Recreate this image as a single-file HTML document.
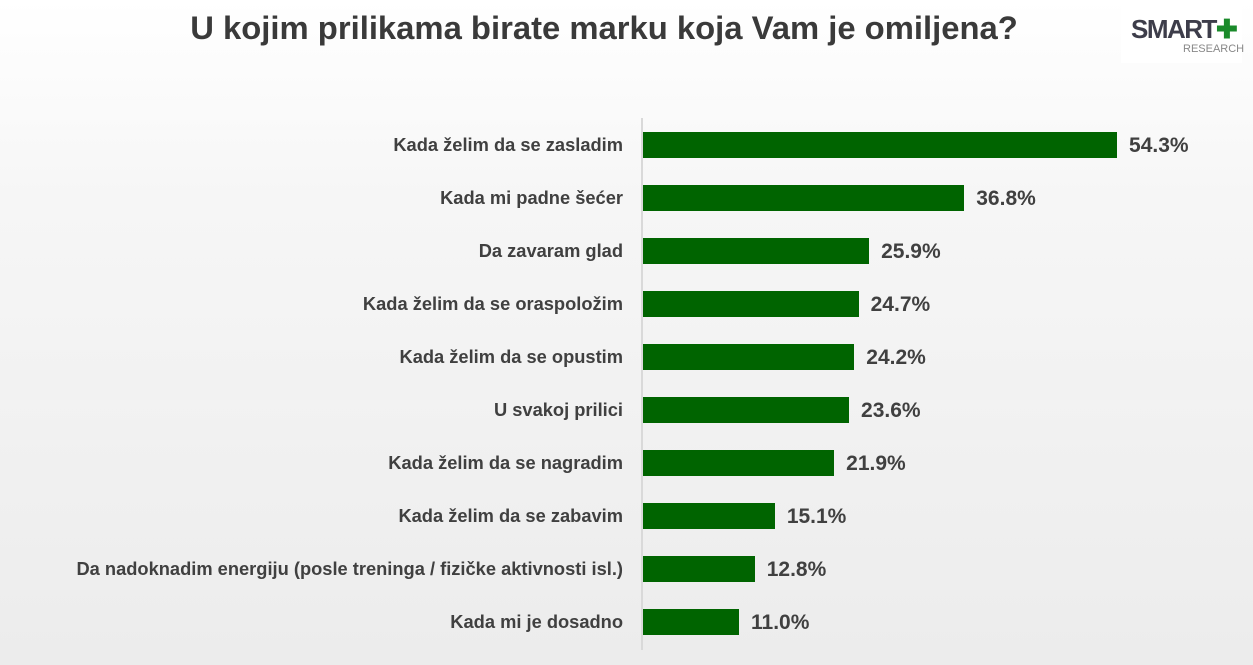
<!DOCTYPE html>
<html><head><meta charset="utf-8"><style>
html,body{margin:0;padding:0}
body{width:1253px;height:665px;position:relative;overflow:hidden;background:linear-gradient(#ffffff 0%,#f6f6f6 30%,#ececec 100%);font-family:"Liberation Sans",sans-serif;color:#404040}
.t{position:absolute;left:0;width:1208px;top:9px;text-align:center;font-size:32.8px;font-weight:bold;color:#3a3a3a}
.logo{position:absolute;left:1121px;top:5px;width:121px;height:58px;background:#fff}
.axis{position:absolute;left:641px;top:118px;width:2px;height:532px;background:#d9d9d9}
.lab{position:absolute;right:630px;font-size:18.3px;font-weight:bold;white-space:nowrap;transform:translateY(-50%)}
.bar{position:absolute;left:643px;height:26px;background:#006400}
.v{position:absolute;font-size:21px;font-weight:bold;transform:translateY(-50%)}
</style></head><body>
<div class="t">U kojim prilikama birate marku koja Vam je omiljena?</div>
<div class="logo">
<div style="position:absolute;left:10px;top:9px;font-size:26px;font-weight:bold;color:#3d3d4a;letter-spacing:-1.5px">SMART<span style="color:#1a8a2a">✚</span></div>
<div style="position:absolute;left:62px;top:38px;font-size:11px;color:#888">RESEARCH</div>
</div>
<div class="axis"></div>
<div id="c"></div>
<script>
var d=[["Kada želim da se zasladim",54.3],["Kada mi padne šećer",36.8],["Da zavaram glad",25.9],["Kada želim da se oraspoložim",24.7],["Kada želim da se opustim",24.2],["U svakoj prilici",23.6],["Kada želim da se nagradim",21.9],["Kada želim da se zabavim",15.1],["Da nadoknadim energiju (posle treninga / fizičke aktivnosti isl.)",12.8],["Kada mi je dosadno",11.0]];
var h="";
d.forEach(function(r,i){var c=145+53*i,w=r[1]*8.73;
h+='<div class="lab" style="top:'+c+'px">'+r[0]+'</div><div class="bar" style="top:'+(c-13)+'px;width:'+w+'px"></div><div class="v" style="top:'+(c+1)+'px;left:'+(643+w+12)+'px">'+r[1].toFixed(1)+'%</div>';});
document.getElementById("c").innerHTML=h;
</script>
</body></html>
